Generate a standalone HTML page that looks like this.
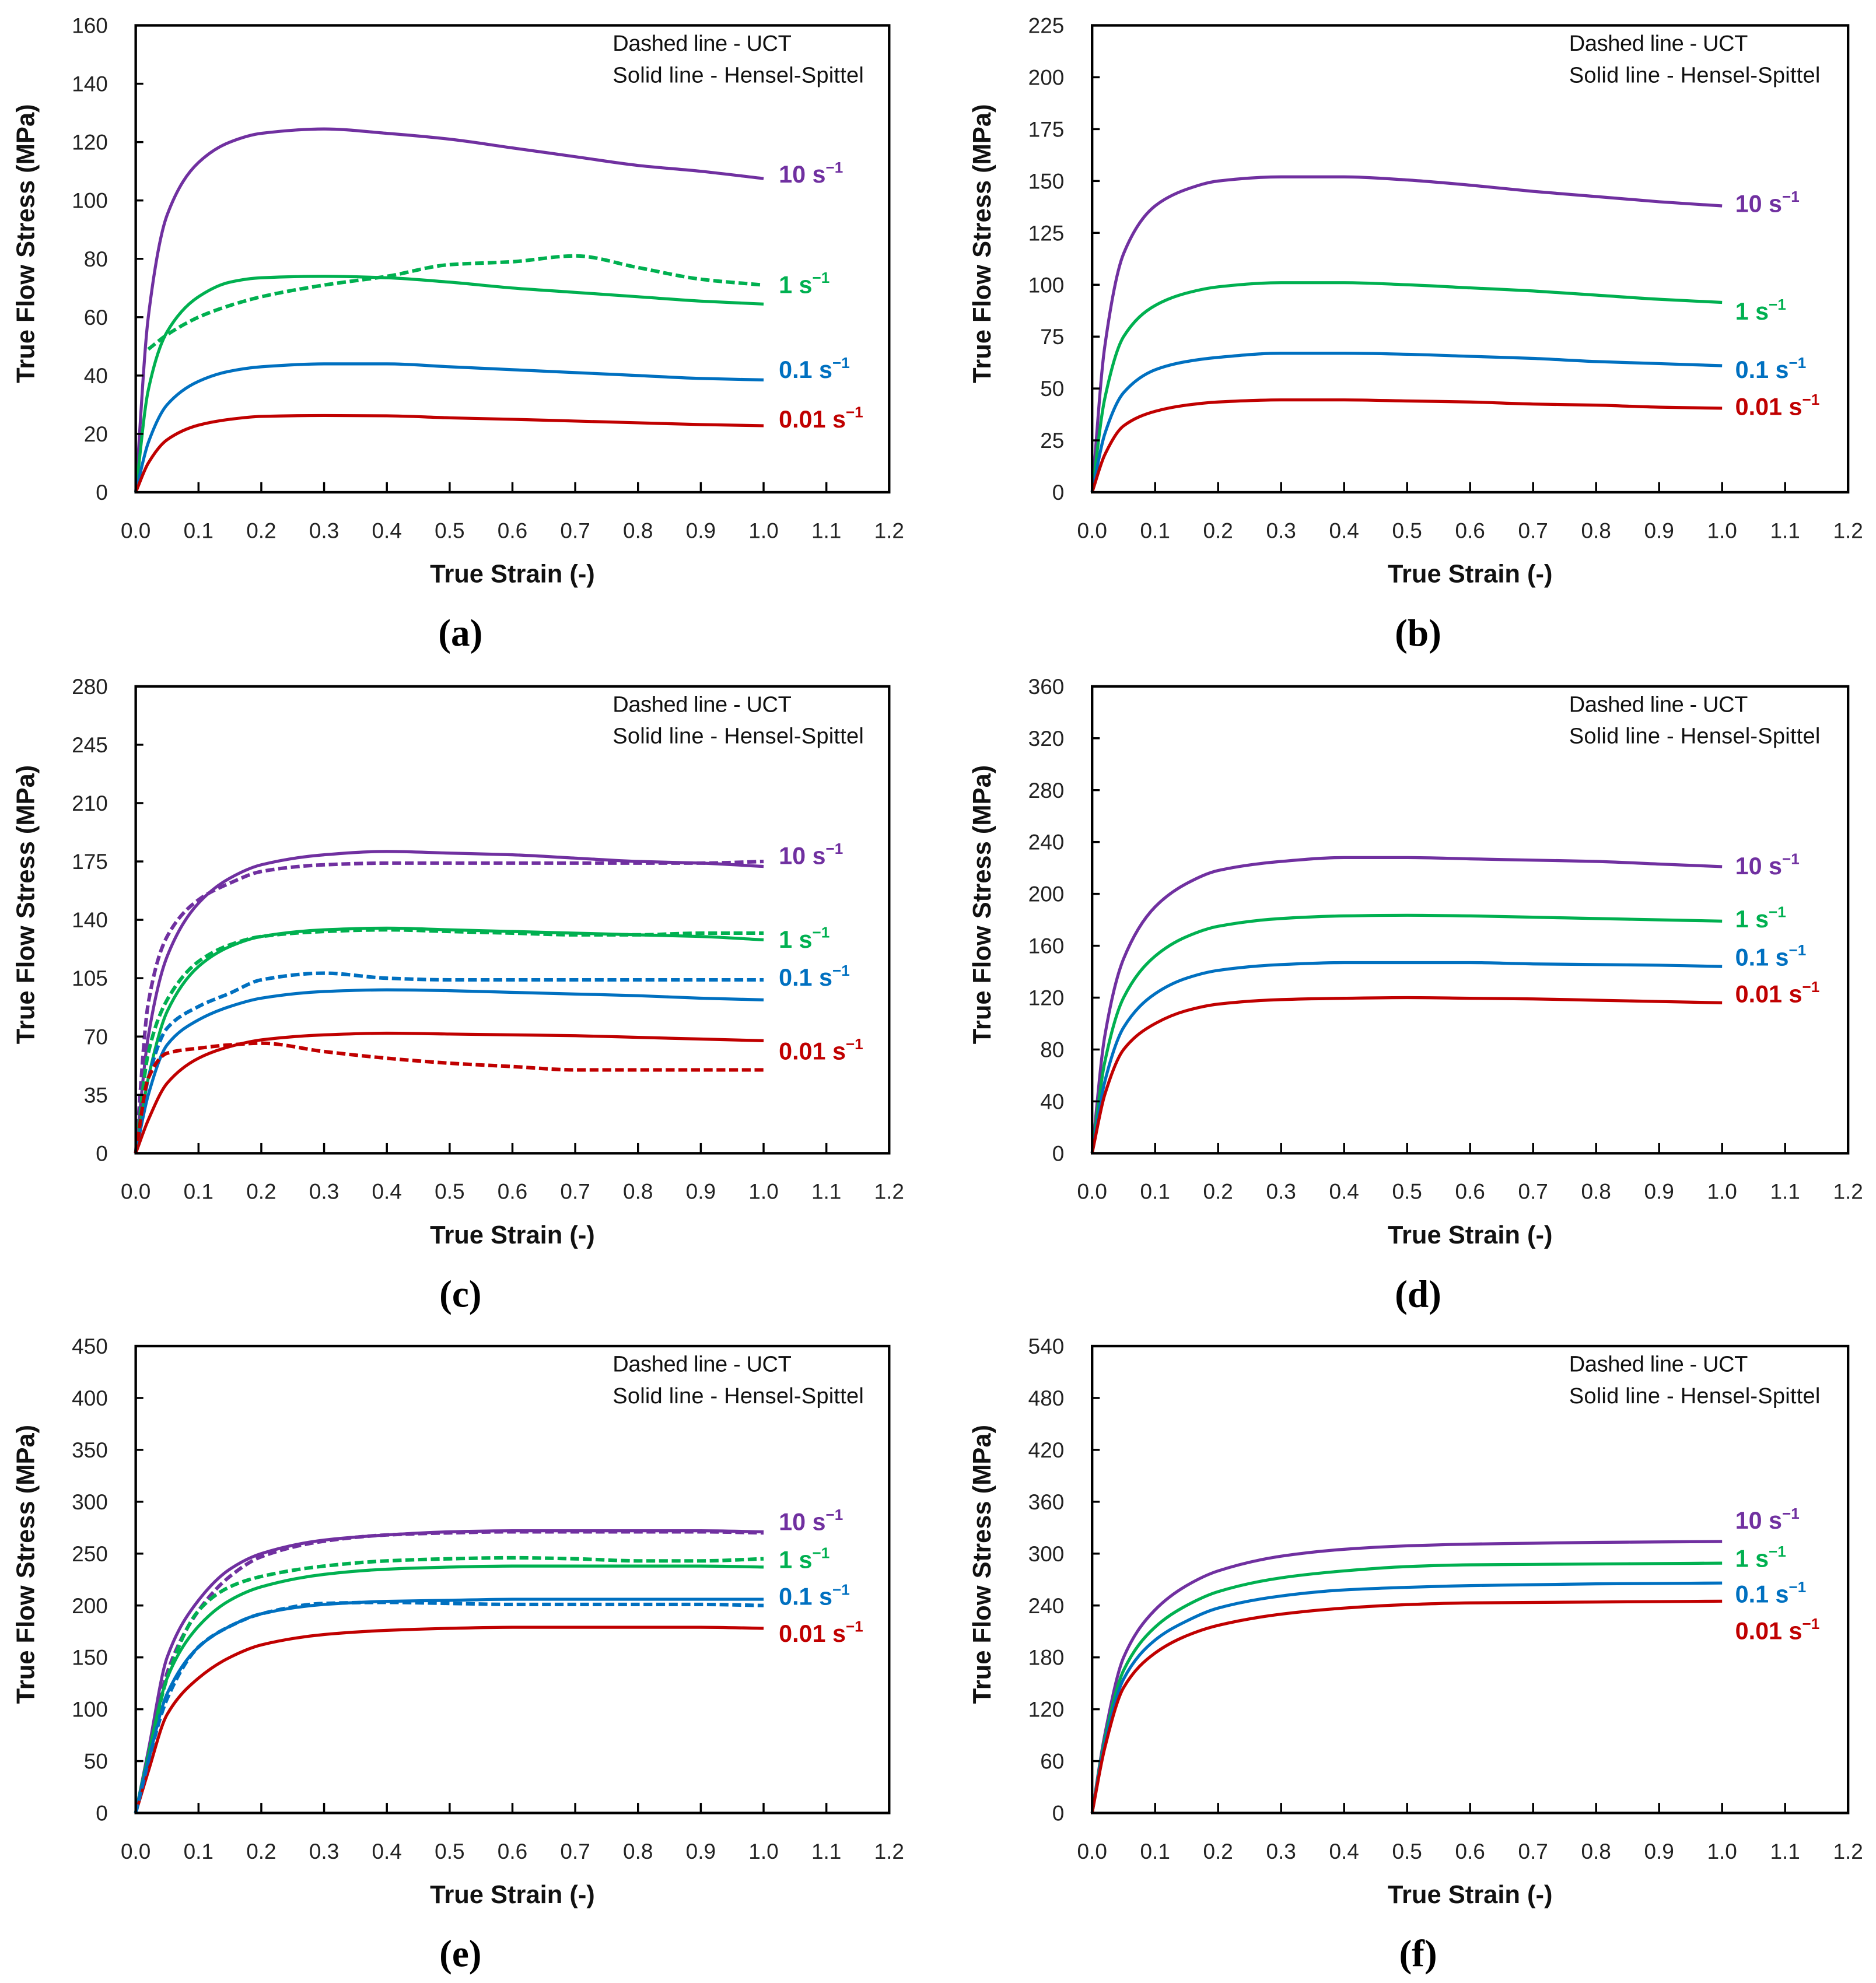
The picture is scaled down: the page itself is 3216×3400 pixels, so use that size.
<!DOCTYPE html>
<html><head><meta charset="utf-8"><style>
html,body{margin:0;padding:0;background:#fff}
svg{display:block}
text{font-family:"Liberation Sans",sans-serif}
</style></head><body>
<svg id="fig" xmlns="http://www.w3.org/2000/svg" width="3216" height="3400" viewBox="0 0 1479 1563" preserveAspectRatio="none"></svg>
<script>
const strain = [0,0.02,0.05,0.1,0.15,0.2,0.3,0.4,0.5,0.6,0.7,0.8,0.9,1.0];
const xTicks = [0,0.1,0.2,0.3,0.4,0.5,0.6,0.7,0.8,0.9,1.0,1.1,1.2];
const xTickLabels = ["0.0","0.1","0.2","0.3","0.4","0.5","0.6","0.7","0.8","0.9","1.0","1.1","1.2"];
const rateLabels = ["10","1","0.1","0.01"];

const yTicksA = [0,20,40,60,80,100,120,140,160];
const yTicksB = [0,25,50,75,100,125,150,175,200,225];
const yTicksC = [0,35,70,105,140,175,210,245,280];
const yTicksD = [0,40,80,120,160,200,240,280,320,360];
const yTicksE = [0,50,100,150,200,250,300,350,400,450];
const yTicksF = [0,60,120,180,240,300,360,420,480,540];

// panel a
const a10 = [0,60,95,113,120,123,124.5,123,121,118,115,112,110,107.5];
const a1 = [0,35,55,67,72,73.5,74,73.5,72,70,68.5,67,65.5,64.5];
const a1d = [null,49,54,60,64,67,71,74,78,79,81,77,73,71];
const a01 = [0,17,30,38,41.5,43,44,44,43,42,41,40,39,38.5];
const a001 = [0,10,18,23,25,26,26.3,26.2,25.5,25,24.4,23.8,23.2,22.8];
// panel b
const b10 = [0,70,115,138,146,150,152,152,150.5,148,145,142.5,140,138];
const b1 = [0,45,75,90,96,99,101,101,100,98.5,97,95,93,91.5];
const b01 = [0,28,48,59,63,65,67,67,66.5,65.5,64.5,63,62,61];
const b001 = [0,18,32,39,42,43.5,44.5,44.5,44,43.5,42.5,42,41,40.5];
// panel c
const c10 = [0,70,118,150,165,173,179,181,180,179,177,175,174,172];
const c10d = [0,90,130,152,162,169,173,174,174,174,174,174,174,175];
const c1 = [0,45,85,112,124,130,134,135,134,133,132,131,130,128];
const c1d = [0,60,92,115,125,130,133,134,133,132,131,131,132,132];
const c01 = [0,35,65,80,88,93,97,98,97.5,96.5,95.5,94.5,93,92];
const c01d = [0,45,75,88,96,104,108,105,104,104,104,104,104,104];
const c001 = [0,20,42,57,64,68,71,72,71.5,71,70.5,69.5,68.5,67.5];
const c001d = [0,45,60,63,65,66,61,57,54,52,50,50,50,50];
// panel d
const d10 = [0,90,150,190,208,218,225,228,228,227,226,225,223,221];
const d1 = [0,70,120,152,167,175,181,183,183.5,183,182,181,180,179];
const d01 = [0,55,97,123,135,141,145.5,147,147,147,146,145.5,145,144];
const d001 = [0,45,80,100,110,115,118.5,119.5,120,119.5,119,118,117,116];
// panel e
const e10 = [0,60,150,205,235,250,263,268,271,272,272,272,272,271];
const e10d = [0,50,135,195,228,247,262,268,270,271,271,271,271,270];
const e1 = [0,55,130,180,205,218,230,235,237,238,238,238,238,237];
const e1d = [0,55,130,195,218,228,238,243,245,246,245,243,243,245];
const e01 = [0,50,115,160,180,192,201,204,205,206,206,206,206,206];
const e01d = [0,50,110,160,180,192,202,203,202,201,201,201,201,200];
const e001 = [0,40,95,130,150,162,172,176,178,179,179,179,179,178];
// panel f
const f10 = [0,90,180,235,263,280,297,305,309,311,312,313,313.5,314];
const f1 = [0,85,165,215,240,256,272,280,285,287,287.5,288,288.5,289];
const f01 = [0,80,155,200,222,237,251,258,261,263,264,265,265.5,266];
const f001 = [0,75,145,185,205,217,230,237,241,243,243.5,244,244.5,245];

const COLORS = ["#7030A0","#00B050","#0070C0","#C00000"];
const NS = "http://www.w3.org/2000/svg";
const svg = document.getElementById("fig");

function mk(tag, attrs, parent){
  const e = document.createElementNS(NS, tag);
  for (const k in attrs) e.setAttribute(k, attrs[k]);
  (parent||svg).appendChild(e);
  return e;
}

const panels = [
  {id:"a", x0:107, x1:701, y0:20, y1:388, ticks:yTicksA, solid:[a10,a1,a01,a001], dashed:[null,a1d,null,null], labY:[137,224,291,330]},
  {id:"b", x0:861, x1:1457, y0:20, y1:388, ticks:yTicksB, solid:[b10,b1,b01,b001], dashed:[null,null,null,null], labY:[160,245,291,320]},
  {id:"c", x0:107, x1:701, y0:541, y1:909, ticks:yTicksC, solid:[c10,c1,c01,c001], dashed:[c10d,c1d,c01d,c001d], labY:[674,740,770,828]},
  {id:"d", x0:861, x1:1457, y0:541, y1:909, ticks:yTicksD, solid:[d10,d1,d01,d001], dashed:[null,null,null,null], labY:[682,724,754,783]},
  {id:"e", x0:107, x1:701, y0:1061, y1:1429, ticks:yTicksE, solid:[e10,e1,e01,e001], dashed:[e10d,e1d,e01d,null], labY:[1199,1229,1258,1287]},
  {id:"f", x0:861, x1:1457, y0:1061, y1:1429, ticks:yTicksF, solid:[f10,f1,f01,f001], dashed:[null,null,null,null], labY:[1198,1228,1256,1285]}
];

// monotone cubic Hermite in x
function pathFrom(xs, ys, sx, sy){
  const P = [];
  for (let i=0;i<xs.length;i++){ if (ys[i]!==null && ys[i]!==undefined) P.push([sx(xs[i]), sy(ys[i])]); }
  const n = P.length, d = [], m = [];
  for (let i=0;i<n-1;i++) d.push((P[i+1][1]-P[i][1])/(P[i+1][0]-P[i][0]));
  m[0] = d[0]; m[n-1] = d[n-2];
  for (let i=1;i<n-1;i++){
    if (d[i-1]*d[i] <= 0) m[i] = 0;
    else { const h0=P[i][0]-P[i-1][0], h1=P[i+1][0]-P[i][0]; const w1=2*h1+h0, w2=h1+2*h0; m[i]=(w1+w2)/(w1/d[i-1]+w2/d[i]); }
  }
  let s = "M"+P[0][0].toFixed(2)+","+P[0][1].toFixed(2);
  for (let i=0;i<n-1;i++){
    const h = P[i+1][0]-P[i][0];
    s += " C"+(P[i][0]+h/3).toFixed(2)+","+(P[i][1]+m[i]*h/3).toFixed(2)+" "+(P[i+1][0]-h/3).toFixed(2)+","+(P[i+1][1]-m[i+1]*h/3).toFixed(2)+" "+P[i+1][0].toFixed(2)+","+P[i+1][1].toFixed(2);
  }
  return s;
}

panels.forEach(p => {
  const g = mk("g", {});
  
  
  const ymax = p.ticks[p.ticks.length-1];
  const sx = v => p.x0 + (v/1.2)*(p.x1-p.x0);
  const sy = v => p.y1 - (v/ymax)*(p.y1-p.y0);
  p.solid.forEach((ser, i) => {
    const path = mk("path", {d:pathFrom(strain, ser, sx, sy), fill:"none", stroke:COLORS[i], "stroke-width":2.4, "stroke-linejoin":"round"}, g);
    
    
  });
  p.dashed.forEach((ser, i) => {
    if (!ser) return;
    const path = mk("path", {d:pathFrom(strain, ser, sx, sy), fill:"none", stroke:COLORS[i], "stroke-width":2.8, "stroke-dasharray":"7 3"}, g);
    
    
  });
  const fr = mk("rect", {x:p.x0, y:p.y0, width:p.x1-p.x0, height:p.y1-p.y0, fill:"none", stroke:"#000", "stroke-width":2}, g);
  
  
  xTicks.forEach((t, i) => {
    const X = sx(t);
    if (i>0 && i<xTicks.length-1){
      const tk = mk("line", {x1:X, x2:X, y1:p.y1, y2:p.y1-8, stroke:"#000", "stroke-width":1.6}, g);
      
      
    }
    const tl = mk("text", {x:X, y:p.y1+36, "font-size":17, "text-anchor":"middle", fill:"#222"}, g);
    
    
    tl.textContent = xTickLabels[i];
  });
  p.ticks.forEach((t, i) => {
    const Y = sy(t);
    if (i>0 && i<p.ticks.length-1){
      const tk = mk("line", {x1:p.x0, x2:p.x0+6, y1:Y, y2:Y, stroke:"#000", "stroke-width":1.6}, g);
      
      
    }
    const tl = mk("text", {x:p.x0-22, y:Y+6, "font-size":17, "text-anchor":"end", fill:"#222"}, g);
    
    
    tl.textContent = String(t);
  });
  const xt = mk("text", {x:(p.x0+p.x1)/2, y:p.y1+71, "font-size":20, "font-weight":"bold", "text-anchor":"middle", fill:"#111"}, g);
  
  
  xt.textContent = "True Strain (-)";
  const cy = (p.y0+p.y1)/2 - 12;
  const yt = mk("text", {x:p.x0-80, y:cy, "font-size":20, "font-weight":"bold", "text-anchor":"middle", fill:"#111", transform:"rotate(-90 "+(p.x0-80)+" "+cy+")"}, g);
  
  
  yt.textContent = "True Flow Stress (MPa)";
  const l1 = mk("text", {x:p.x0+376, y:p.y0+20, "font-size":17.5, fill:"#111", textLength:141}, g);
  
  
  l1.textContent = "Dashed line - UCT";
  const l2 = mk("text", {x:p.x0+376, y:p.y0+45, "font-size":17.5, fill:"#111", textLength:198}, g);
  
  
  l2.textContent = "Solid line - Hensel-Spittel";
  rateLabels.forEach((r, i) => {
    const t = mk("text", {x:p.x0+507, y:p.labY[i]+7, "font-size":19, "font-weight":"bold", fill:COLORS[i]}, g);
    
    
    t.textContent = r + " s";
    const sup = mk("tspan", {"font-size":12, dy:-8}, t);
    sup.textContent = "\u22121";
  });
  const pl = mk("text", {x:(p.x0+p.x1)/2 - 41, y:p.y1+121, "font-size":30, "font-weight":"bold", "text-anchor":"middle", fill:"#000", style:"font-family:'Liberation Serif',serif"}, g);
  
  
  pl.textContent = "(" + p.id + ")";
});
</script>
</body></html>
